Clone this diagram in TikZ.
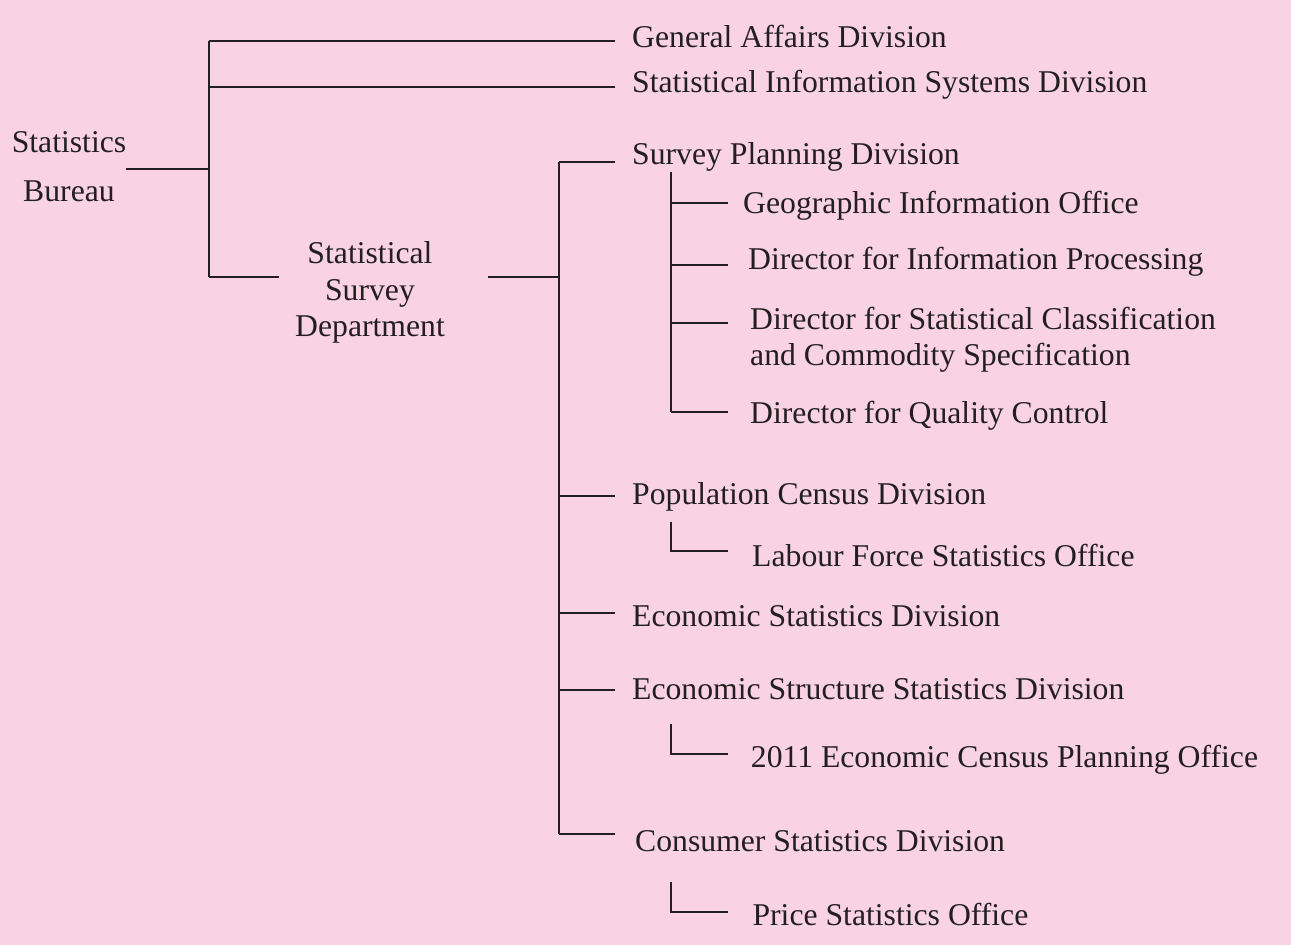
\documentclass[tikz,border=0pt]{standalone}
\usepackage{fontspec}
\setmainfont{Liberation Serif}
\definecolor{bg}{RGB}{249,211,227}
\definecolor{ink}{RGB}{35,31,32}
\begin{document}
\begin{tikzpicture}[x=1pt,y=-1pt,
  conn/.style={draw=ink, line width=2.2pt},
  lab/.style={anchor=base west, inner sep=0pt, text=ink, font=\fontsize{31.7}{36.6}\selectfont}]
\fill[bg] (0,0) rectangle (1291,945);
\useasboundingbox (0,0) rectangle (1291,945);

% nodes (for multi-line nodes the base anchor is on the last line)
\node[lab, anchor=base, align=center, font=\fontsize{31.7}{49}\selectfont] (sb) at (69,201.7) {Statistics\\Bureau};
\node[lab, anchor=base, align=center, font=\fontsize{31.7}{36.4}\selectfont] (ssd) at (370,336.7) {Statistical\\Survey\\Department};

\node[lab] (ga)  at (632,47)    {General Affairs Division};
\node[lab] (sis) at (632,92.7)  {Statistical Information Systems Division};
\node[lab] (sp)  at (632,164)   {Survey Planning Division};
\node[lab] (pc)  at (632,504.3) {Population Census Division};
\node[lab] (es)  at (632,626)   {Economic Statistics Division};
\node[lab] (esc) at (632,699.3) {Economic Structure Statistics Division};
\node[lab] (cs)  at (635,851)   {Consumer Statistics Division};

\node[lab] (geo) at (743,213)   {Geographic Information Office};
\node[lab] (dip) at (748,269)   {Director for Information Processing};
\node[lab, align=left] (dsc) at (750,365.7) {Director for Statistical Classification\\and Commodity Specification};
\node[lab] (dqc) at (750,423)   {Director for Quality Control};
\node[lab] (lfs) at (752,566.7) {Labour Force Statistics Office};
\node[lab] (ecp) at (750.7,767.7) {2011 Economic Census Planning Office};
\node[lab] (pso) at (752.3,925) {Price Statistics Office};

% junction coordinates
\coordinate (a1) at (209,41);
\coordinate (a2) at (209,86.7);
\coordinate (a3) at (209,169.3);
\coordinate (a4) at (209,276.7);
\coordinate (bs) at (488,276.7);
\coordinate (b0) at (559,162.3);
\coordinate (b1) at (559,276.7);
\coordinate (b2) at (559,496);
\coordinate (b3) at (559,613.3);
\coordinate (b4) at (559,690);
\coordinate (b5) at (559,834);
\coordinate (e1) at (615,0);
\coordinate (c0) at (671,171.7);
\coordinate (c1) at (671,202.7);
\coordinate (c2) at (671,265);
\coordinate (c3) at (671,323.3);
\coordinate (c4) at (671,411.7);
\coordinate (e2) at (728,0);
\coordinate (l1a) at (671,521.7);
\coordinate (l1b) at (671,551);
\coordinate (l2a) at (671,724.3);
\coordinate (l2b) at (671,754.3);
\coordinate (l3a) at (671,882.3);
\coordinate (l3b) at (671,912.3);

% connectors: bureau
\draw[conn] (sb.east |- a3) -- (a3);
\draw[conn] (a1) -- (a4);
\draw[conn] (a1) -- (a1 -| e1);
\draw[conn] (a2) -- (a2 -| e1);
\draw[conn] (a4) -- ([xshift=-16pt]a4 -| ssd.west);
% department
\draw[conn] (bs) -- (b1);
\draw[conn] (b0) -- (b5);
\draw[conn] (b0) -- (b0 -| e1);
\draw[conn] (b2) -- (b2 -| e1);
\draw[conn] (b3) -- (b3 -| e1);
\draw[conn] (b4) -- (b4 -| e1);
\draw[conn] (b5) -- (b5 -| e1);
% survey planning sub-units
\draw[conn] (c0) -- (c4);
\draw[conn] (c1) -- (c1 -| e2);
\draw[conn] (c2) -- (c2 -| e2);
\draw[conn] (c3) -- (c3 -| e2);
\draw[conn] (c4) -- (c4 -| e2);
% offices
\draw[conn] (l1a) -- (l1b) -- (l1b -| e2);
\draw[conn] (l2a) -- (l2b) -- (l2b -| e2);
\draw[conn] (l3a) -- (l3b) -- (l3b -| e2);
\end{tikzpicture}
\end{document}
